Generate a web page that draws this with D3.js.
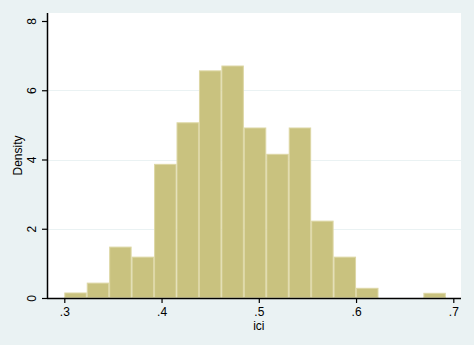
<!DOCTYPE html>
<html>
<head>
<meta charset="utf-8">
<script src="https://cdn.jsdelivr.net/npm/d3@7"></script>
<style>
	html, body { margin: 0; padding: 0; background: #eaf2f3; }
	svg { display: block; }
	text { font-family: "Liberation Sans", Arial, sans-serif; }
</style>
</head>
<body>
<div id="chart"></div>
<script>

// histogram of ici, density scale
var binStart = 0.3
var binWidth = 0.3 / 13
var densities = [0.145, 0.43, 1.47, 1.18, 3.86, 5.06, 6.56, 6.70, 4.91, 4.15, 4.91, 2.22, 1.18, 0.28, 0, 0, 0.136]

var xTicks = [0.3, 0.4, 0.5, 0.6, 0.7]
var xTickLabels = [".3", ".4", ".5", ".6", ".7"]
var yTicks = [0, 2, 4, 6, 8]
var yTickLabels = ["0", "2", "4", "6", "8"]

var xTitle = "ici"
var yTitle = "Density"


var width = 474
var height = 345
var plot = {left: 47, right: 461, top: 13, bottom: 298}

var svg = d3.select("#chart")
	.append("svg")
		.attr("width", width)
		.attr("height", height)

svg.append("rect")
	.attr("width", width)
	.attr("height", height)
	.attr("fill", "#eaf2f3")

var xScale = d3.scaleLinear()
	.domain([0.3, 0.7])
	.range([64.3, 453.3])

var yScale = d3.scaleLinear()
	.domain([0, 8])
	.range([298, 21])

// white plot region
svg.append("rect")
	.attr("x", plot.left)
	.attr("y", plot.top)
	.attr("width", plot.right - plot.left)
	.attr("height", plot.bottom - plot.top)
	.attr("fill", "#ffffff")

// gridlines, skip the outer ticks like stata does
svg.append("g")
	.selectAll("line")
	.data(yTicks.slice(1, -1))
	.enter()
	.append("line")
		.attr("x1", plot.left)
		.attr("x2", plot.right)
		.attr("y1", function(d){ return Math.round(yScale(d)) + 0.5 })
		.attr("y2", function(d){ return Math.round(yScale(d)) + 0.5 })
		.attr("stroke", "#eaf2f3")
		.attr("stroke-width", 1)

// bars
svg.append("g")
	.selectAll("rect")
	.data(densities.map(function(d, i){ return {x0: binStart + i*binWidth, x1: binStart + (i+1)*binWidth, y: d} }).filter(function(d){ return d.y > 0 }))
	.enter()
	.append("rect")
		.attr("x", function(d){ return xScale(d.x0) + 0.5 })
		.attr("width", function(d){ return xScale(d.x1) - xScale(d.x0) - 1 })
		.attr("y", function(d){ return yScale(d.y) })
		.attr("height", function(d){ return yScale(0) - yScale(d.y) - 0.5 })
		.attr("fill", "#c9c27f")
		.attr("stroke", "#ddd7a5")
		.attr("stroke-width", 1)

// x axis
var xAxis = svg.append("g")
	.attr("transform", "translate(0," + plot.bottom + ")")
	.call(d3.axisBottom(xScale)
		.tickValues(xTicks)
		.tickFormat(function(d, i){ return xTickLabels[i] })
		.tickSize(5)
		.tickPadding(4))
xAxis.select(".domain")
	.attr("d", "M" + plot.left + ",0.5H" + plot.right)
	.attr("stroke", "#000")
	.attr("stroke-width", 1.5)
xAxis.selectAll(".tick line").attr("stroke", "#000").attr("stroke-width", 1.2)
xAxis.selectAll("text")
	.attr("fill", "#000")
	.style("font-size", "12px")

// y axis, labels rotated
var yAxis = svg.append("g")
	.attr("transform", "translate(" + plot.left + ",0)")
	.call(d3.axisLeft(yScale)
		.tickValues(yTicks)
		.tickFormat(function(d, i){ return yTickLabels[i] })
		.tickSize(5)
		.tickPadding(0))
yAxis.select(".domain")
	.attr("d", "M0.5," + plot.top + "V" + (plot.bottom + 0.5))
	.attr("stroke", "#000")
	.attr("stroke-width", 1.5)
yAxis.selectAll(".tick line").attr("stroke", "#000").attr("stroke-width", 1.2)
yAxis.selectAll("text")
	.attr("fill", "#000")
	.attr("x", null)
	.attr("dy", null)
	.attr("transform", "translate(-15,0) rotate(-90)")
	.attr("text-anchor", "middle")
	.attr("dominant-baseline", "central")
	.style("font-size", "12px")

// axis titles
svg.append("text")
	.attr("x", (xScale(0.5)))
	.attr("y", 330)
	.attr("text-anchor", "middle")
	.style("font-size", "12px")
	.text(xTitle)

svg.append("text")
	.attr("transform", "translate(22," + ((plot.top + plot.bottom) / 2) + ") rotate(-90)")
	.attr("text-anchor", "middle")
	.style("font-size", "12px")
	.text(yTitle)

</script>
</body>
</html>
